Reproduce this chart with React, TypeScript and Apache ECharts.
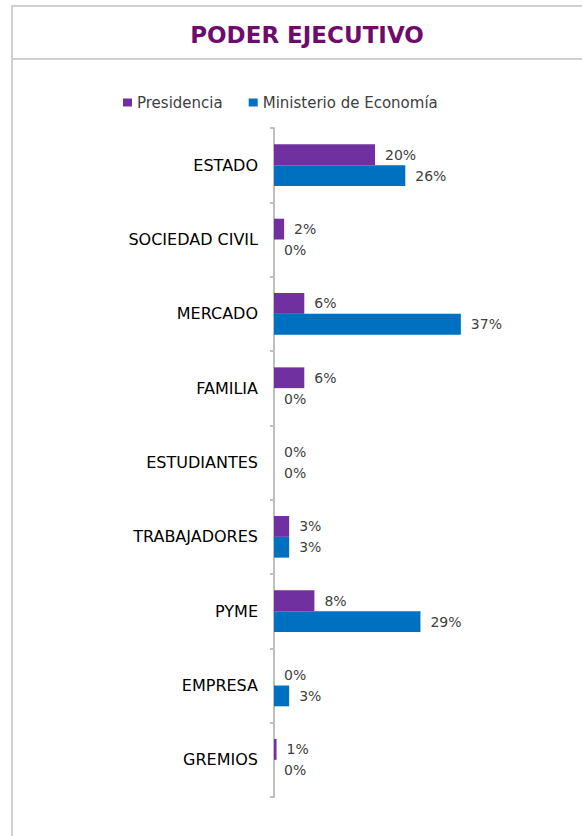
import React, { useEffect, useRef } from "react";
import * as echarts from "echarts";

const title = "PODER EJECUTIVO";
const categories = [
  "ESTADO",
  "SOCIEDAD CIVIL",
  "MERCADO",
  "FAMILIA",
  "ESTUDIANTES",
  "TRABAJADORES",
  "PYME",
  "EMPRESA",
  "GREMIOS",
];
const seriesNames = ["Presidencia", "Ministerio de Economía"];
const presidencia = [0.2, 0.02, 0.06, 0.06, 0, 0.03, 0.08, 0, 0.005];
const ministerio = [0.26, 0, 0.37, 0, 0, 0.03, 0.29, 0.03, 0];

const FONT = "DejaVu Sans";

export default function App() {
  const ref = useRef<HTMLDivElement>(null);
  useEffect(() => {
    document.body.style.margin = "0";
    const chart = echarts.init(ref.current!, null, { renderer: "svg" });
    const pct = (p: any) => Math.round(p.value * 100) + "%";
    chart.setOption({
      animation: false,
      backgroundColor: "#ffffff",
      title: {
        text: title,
        left: 302,
        textAlign: "center",
        top: 18,
        textStyle: {
          fontFamily: FONT,
          fontSize: 23,
          fontWeight: "bold",
          color: "#6E0C6E",
        },
      },
      legend: {
        left: 118,
        top: 90,
        icon: "rect",
        itemWidth: 9,
        itemHeight: 8,
        itemGap: 26,
        textStyle: { fontFamily: FONT, fontSize: 15, color: "#404040" },
        data: seriesNames,
      },
      graphic: [
        { type: "line", shape: { x1: 12, y1: 6, x2: 582, y2: 6 }, style: { stroke: "#D0D0D0", lineWidth: 2 } },
        { type: "line", shape: { x1: 12, y1: 59, x2: 582, y2: 59 }, style: { stroke: "#D0D0D0", lineWidth: 2 } },
        { type: "line", shape: { x1: 12, y1: 5, x2: 12, y2: 836 }, style: { stroke: "#D0D0D0", lineWidth: 2 } },
      ],
      grid: { left: 274, top: 128, width: 303, height: 669, containLabel: false },
      xAxis: {
        type: "value",
        min: 0,
        max: 0.6,
        show: false,
      },
      yAxis: {
        type: "category",
        data: categories,
        inverse: true,
        axisLine: { show: true, lineStyle: { color: "#BFBFBF", width: 2 } },
        axisTick: { show: true, length: 4, lineStyle: { color: "#BFBFBF", width: 2 } },
        axisLabel: { margin: 16, fontFamily: FONT, fontSize: 16, color: "#000000" },
        splitLine: { show: false },
      },
      series: [
        {
          name: seriesNames[0],
          type: "bar",
          data: presidencia,
          barGap: "0%",
          barCategoryGap: "44%",
          itemStyle: { color: "#7030A0" },
          label: {
            show: true,
            position: "right",
            distance: 10,
            formatter: pct,
            fontFamily: FONT,
            fontSize: 14,
            color: "#404040",
          },
        },
        {
          name: seriesNames[1],
          type: "bar",
          data: ministerio,
          barGap: "0%",
          barCategoryGap: "44%",
          itemStyle: { color: "#0070C0" },
          label: {
            show: true,
            position: "right",
            distance: 10,
            formatter: pct,
            fontFamily: FONT,
            fontSize: 14,
            color: "#404040",
          },
        },
      ],
    });
    return () => chart.dispose();
  }, []);
  return <div ref={ref} style={{ width: 582, height: 836 }} />;
}
